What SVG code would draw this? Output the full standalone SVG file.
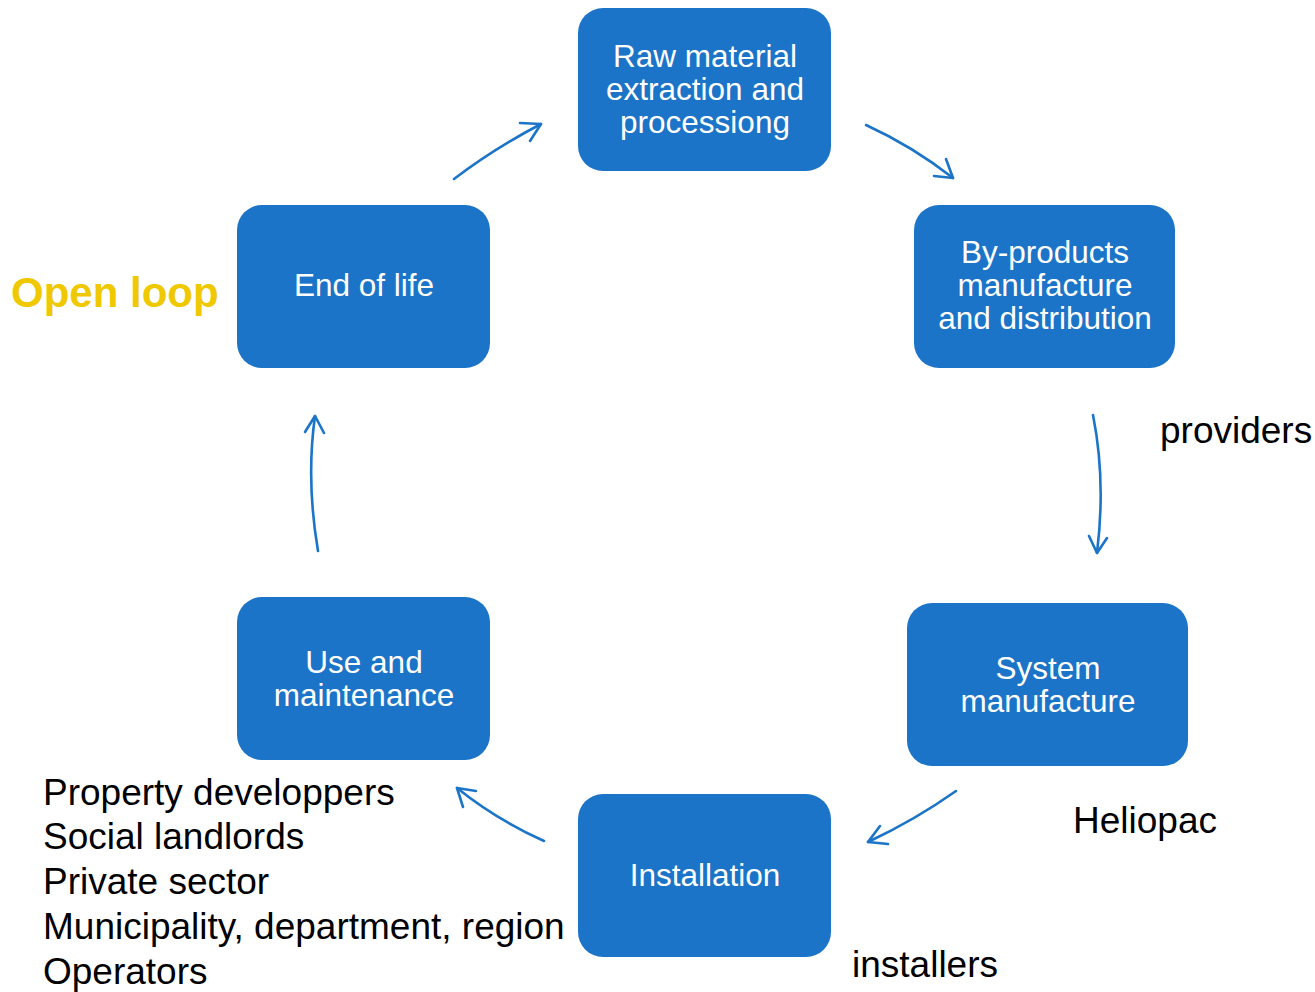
<svg xmlns="http://www.w3.org/2000/svg" width="1315" height="992" viewBox="0 0 1315 992">
  <style>
    .box { fill: #1B74C7; }
    .lbl { font-family: "Liberation Sans", Arial, sans-serif; font-size: 31.5px; fill: #ffffff; text-anchor: middle; }
    .note { font-family: "Liberation Sans", Arial, sans-serif; font-size: 37px; fill: #000000; }
    .loop { font-family: "Liberation Sans", Arial, sans-serif; font-size: 42px; font-weight: bold; fill: #F0C800; }
    .conn path { fill: none; stroke: #1B74C7; stroke-width: 2.6; stroke-linecap: round; stroke-linejoin: round; }
  </style>

  <rect width="1315" height="992" fill="#ffffff"/>

  <!-- lifecycle stages -->
  <g id="raw-material">
    <rect class="box" x="578" y="8" width="253" height="163" rx="25"/>
    <text class="lbl" x="705" y="67">Raw material</text>
    <text class="lbl" x="705" y="100">extraction and</text>
    <text class="lbl" x="705" y="133">processiong</text>
  </g>

  <g id="by-products">
    <rect class="box" x="914" y="205" width="261" height="163" rx="25"/>
    <text class="lbl" x="1045" y="263">By-products</text>
    <text class="lbl" x="1045" y="296">manufacture</text>
    <text class="lbl" x="1045" y="329">and distribution</text>
  </g>

  <g id="system-manufacture">
    <rect class="box" x="907" y="603" width="281" height="163" rx="25"/>
    <text class="lbl" x="1048" y="679">System</text>
    <text class="lbl" x="1048" y="712">manufacture</text>
  </g>

  <g id="installation">
    <rect class="box" x="578" y="794" width="253" height="163" rx="25"/>
    <text class="lbl" x="705" y="886">Installation</text>
  </g>

  <g id="use-maintenance">
    <rect class="box" x="237" y="597" width="253" height="163" rx="25"/>
    <text class="lbl" x="364" y="673">Use and</text>
    <text class="lbl" x="364" y="706">maintenance</text>
  </g>

  <g id="end-of-life">
    <rect class="box" x="237" y="205" width="253" height="163" rx="25"/>
    <text class="lbl" x="364" y="296">End of life</text>
  </g>

  <!-- cycle connectors with open arrowheads -->
  <g id="connectors" class="conn">
    <path d="M454,179 Q495,148 541,124"/>
    <path d="M520,123 L541,124 L530,141"/>

    <path d="M866,125 Q912,146 953,178"/>
    <path d="M946,159 L953,178 L934,176"/>

    <path d="M1093,415 Q1106,480 1097,553"/>
    <path d="M1089,536 L1097,553 L1107,538"/>

    <path d="M956,791 Q915,820 868,842"/>
    <path d="M880,826 L868,842 L888,844"/>

    <path d="M544,841 Q497,820 457,788"/>
    <path d="M476,791 L457,788 L463,807"/>

    <path d="M318,551 Q306,480 315,416"/>
    <path d="M305,432 L315,416 L324,433"/>
  </g>

  <!-- side annotations -->
  <text class="loop" x="11" y="307">Open loop</text>
  <text class="note" x="1160" y="443">providers</text>
  <text class="note" x="1073" y="833">Heliopac</text>
  <text class="note" x="852" y="977">installers</text>
  <text class="note" x="43" y="805">Property developpers</text>
  <text class="note" x="43" y="849">Social landlords</text>
  <text class="note" x="43" y="894">Private sector</text>
  <text class="note" x="43" y="939">Municipality, department, region</text>
  <text class="note" x="43" y="984">Operators</text>
</svg>
